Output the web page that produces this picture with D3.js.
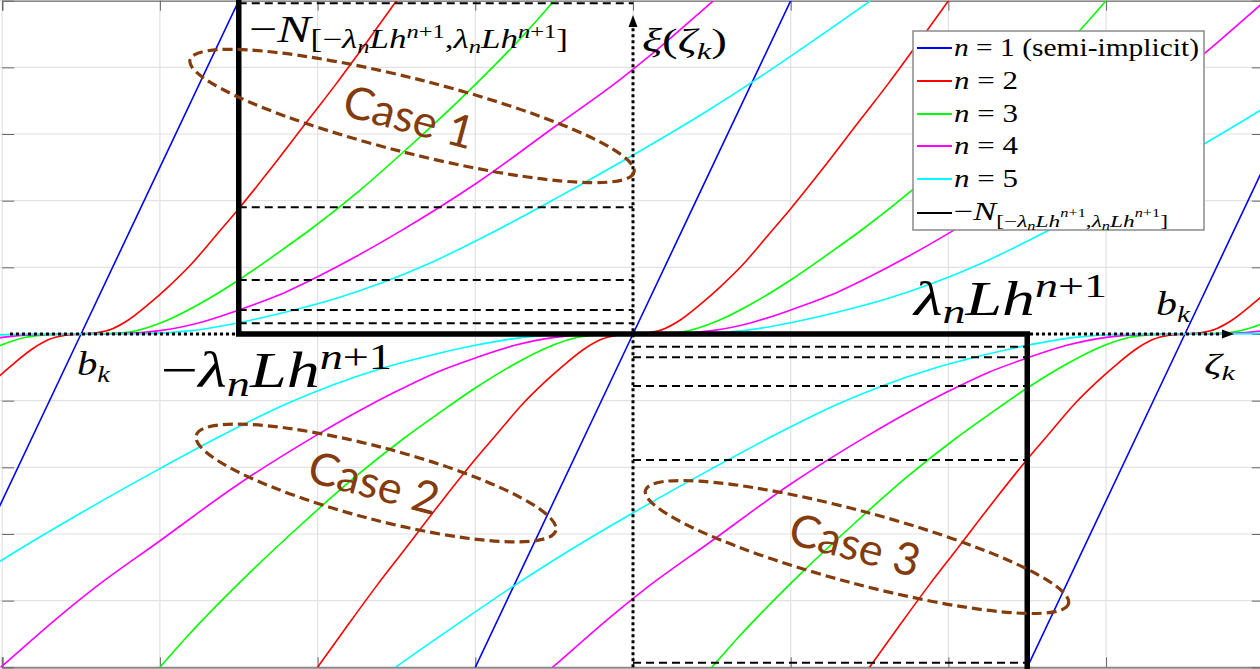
<!DOCTYPE html>
<html><head><meta charset="utf-8">
<script src="https://cdn.jsdelivr.net/npm/d3@7"></script>
<style>body{margin:0;background:#fff;} svg{display:block} text{white-space:pre}</style>
</head><body><svg id="c" width="1260" height="669"></svg>
<script>
// ---------------- data ----------------
const zeroOffsets = [-3.5, 0, 3.5];          // zeros of ξ: −b_k, 0, b_k
const seriesNames = ["1", "2", "3", "4", "5"];
const seriesColors = ["#0000ff", "#ff0000", "#00ff00", "#ff00ff", "#00ffff"];
// half curves (ζ ≥ 0, relative to each zero); curves are odd about their zero
const halfN1 = [[0,0],[1.2,6.0]];
const halfN2 = [[0,0],[0.1,0.02],[0.2,0.08],[0.3,0.21],[0.44,0.47],[0.55,0.70],[0.7,1.05],[0.87,1.52],[1.0,1.88],[1.2,2.47],[1.45,3.24],[1.62,3.76],[1.8,4.34],[2.0,5.0],[2.3,6.0]];
const halfN3 = [[0,0],[0.2,0.01],[0.35,0.05],[0.55,0.21],[0.75,0.45],[1.0,0.81],[1.25,1.22],[1.45,1.56],[1.77,2.16],[2.1,2.85],[2.43,3.58],[2.82,4.52],[3.0,5.0],[3.3,5.8]];
const halfN4 = [[0,0],[0.3,0.01],[0.5,0.05],[0.75,0.17],[1.0,0.36],[1.25,0.58],[1.5,0.86],[1.75,1.17],[2.03,1.55],[2.5,2.25],[3.01,3.12],[3.42,3.82],[3.63,4.22],[4.0,4.98],[4.4,5.8]];
const halfN5 = [[0,0],[0.4,0.005],[0.7,0.05],[1.0,0.17],[1.3,0.33],[1.6,0.52],[1.9,0.76],[2.2,1.05],[2.63,1.55],[3.0,2.02],[3.49,2.67],[3.96,3.33],[4.27,3.8],[4.6,4.33],[5.0,4.99],[5.3,5.5]];
const halfCurves = [halfN1, halfN2, halfN3, halfN4, halfN5];
const xTicks = [-4,-3,-2,-1,0,1,2,3,4];
const yTicks = [-5,-4,-3,-2,-1,0,1,2,3,4,5];
const lambdaLh = 2.5;                                   // λ_n L h^{n+1}
const dashTop = [4.96, 1.90, 0.81, 0.36, 0.16];         // ξ at ζ = −λLh (upper levels)
const dashBottom = [-4.93, -1.89, -0.78, -0.35, -0.19]; // ξ at ζ = +λLh (lower levels)
const caseLabels = ["Case 1", "Case 2", "Case 3"];

// ---------------- setup ----------------
const svg = d3.select("#c");
const W = 1260, H = 669;
const x = d3.scaleLinear().domain([-4, 4]).range([2.2, 1263.8]);
const y = d3.scaleLinear().domain([-5, 5]).range([667.3, 0.7]);
const SERIF = "'Liberation Serif','Times New Roman',serif";
const BROWN = "#843c0c";

svg.append("rect").attr("width", W).attr("height", H).attr("fill", "#fff");
svg.append("defs").append("clipPath").attr("id", "plot")
  .append("rect").attr("x", 0).attr("y", 1).attr("width", W).attr("height", 666.3);

// grid
const grid = svg.append("g").attr("stroke", "#e2e2e2").attr("stroke-width", 1.2);
grid.selectAll(".gx").data(xTicks).join("line")
  .attr("x1", d => x(d)).attr("x2", d => x(d)).attr("y1", y(5)).attr("y2", y(-5));
grid.selectAll(".gy").data(yTicks).join("line")
  .attr("x1", 0).attr("x2", W).attr("y1", d => y(d)).attr("y2", d => y(d));

// axes via d3 (ticks only, inward)
const axG = svg.append("g").attr("color", "#666");
axG.append("g").attr("transform", `translate(0,${y(-5)})`)
  .call(d3.axisTop(x).tickValues(xTicks).tickSize(10).tickFormat(""))
  .call(g => g.select(".domain").attr("stroke", "#8a8a8a").attr("stroke-width", 2));
axG.append("g").attr("transform", `translate(0,${y(5)})`)
  .call(d3.axisBottom(x).tickValues(xTicks).tickSize(10).tickFormat(""))
  .call(g => g.select(".domain").attr("stroke", "#8a8a8a").attr("stroke-width", 1.5));
axG.append("g").attr("transform", `translate(${x(-4)},0)`)
  .call(d3.axisRight(y).tickValues(yTicks).tickSize(12).tickFormat(""))
  .call(g => g.select(".domain").remove());
axG.append("g").attr("transform", `translate(${x(4)},0)`)
  .call(d3.axisLeft(y).tickValues(yTicks).tickSize(12).tickFormat(""))
  .call(g => g.select(".domain").remove());

// curves
const line = d3.line().x(d => x(d[0])).y(d => y(d[1])).curve(d3.curveMonotoneX);
const curvesG = svg.append("g").attr("clip-path", "url(#plot)").attr("fill", "none");
halfCurves.forEach((half, i) => {
  const full = half.slice(1).map(([a, b]) => [-a, -b]).reverse().concat(half);
  zeroOffsets.forEach(off => {
    curvesG.append("path")
      .attr("d", line(full.map(([a, b]) => [a + off, b])))
      .attr("stroke", seriesColors[i]).attr("stroke-width", 1.6);
  });
});

// dashed level lines
const dashG = svg.append("g").attr("stroke", "#000").attr("stroke-width", 2).attr("stroke-dasharray", "8,5");
dashG.selectAll(".dt").data(dashTop).join("line")
  .attr("x1", x(-lambdaLh)).attr("x2", x(0)).attr("y1", d => y(d)).attr("y2", d => y(d));
dashG.selectAll(".db").data(dashBottom).join("line")
  .attr("x1", x(0)).attr("x2", x(lambdaLh)).attr("y1", d => y(d)).attr("y2", d => y(d));

// dotted axes with arrows
const dot = svg.append("g").attr("stroke", "#000").attr("stroke-width", 3).attr("stroke-dasharray", "3,3");
dot.append("line").attr("x1", 10).attr("x2", 1224).attr("y1", y(0)).attr("y2", y(0));
dot.append("line").attr("x1", x(0)).attr("x2", x(0)).attr("y1", y(-5)).attr("y2", 26);
svg.append("path").attr("fill", "#000")
  .attr("d", `M1234,${y(0)} L1222,${y(0) - 4.5} L1222,${y(0) + 4.5} Z`);
svg.append("path").attr("fill", "#000")
  .attr("d", `M${x(0)},15 L${x(0) - 4.5},27 L${x(0) + 4.5},27 Z`);

// thick normal-cone graph
svg.append("path").attr("fill", "none").attr("stroke", "#000").attr("stroke-width", 5.5)
  .attr("stroke-linejoin", "miter")
  .attr("d", d3.line()([[x(-lambdaLh), 0], [x(-lambdaLh), y(0)], [x(lambdaLh), y(0)], [x(lambdaLh), H]]));

// ellipses (case regions)
const ellipses = [
  {cx: 412, cy: 116, rx: 229, ry: 37, a: 14.2},
  {cx: 376, cy: 483, rx: 186, ry: 36, a: 14.8},
  {cx: 857, cy: 547, rx: 219, ry: 36, a: 15}
];
svg.append("g").selectAll("ellipse").data(ellipses).join("ellipse")
  .attr("cx", 0).attr("cy", 0).attr("rx", d => d.rx).attr("ry", d => d.ry)
  .attr("transform", d => `translate(${d.cx},${d.cy}) rotate(${d.a})`)
  .attr("fill", "none").attr("stroke", BROWN).attr("stroke-width", 3.2).attr("stroke-dasharray", "10,5");
const casePos = [[409, 117], [374, 483], [855, 545]];
svg.append("g").selectAll("text").data(caseLabels).join("text")
  .attr("transform", (d, i) => `translate(${casePos[i][0]},${casePos[i][1]}) rotate(15)`)
  .attr("text-anchor", "middle").attr("dy", "0.35em")
  .attr("font-family", "Lato, 'Open Sans', sans-serif").attr("font-size", 45)
  .attr("fill", BROWN).text(d => d);

// math text helper: tokens [text, italic, scale, shift(em, +down)]
function mtext(parent, px, py, size, toks, len) {
  const t = parent.append("text").attr("x", px).attr("y", py)
    .attr("font-family", SERIF).attr("fill", "#000");
  let cur = 0;
  toks.forEach(([s, it, sc, sh]) => {
    t.append("tspan").text(s).attr("font-style", it ? "italic" : "normal")
      .attr("font-size", size * sc).attr("dy", (sh - cur) * size);
    cur = sh;
  });
  if (len) t.attr("textLength", len).attr("lengthAdjust", "spacingAndGlyphs");
  return t;
}
function normalConeTokens(sc, sub, sup, subsub) {
  return [
    ["−", 0, 1, 0], ["N", 1, 1, 0],
    ["[−", 0, sc, sub], ["λ", 1, sc, sub], ["n", 1, sc * 0.7, subsub], ["L", 1, sc, sub], ["h", 1, sc, sub],
    ["n", 1, sc * 0.7, sup], ["+1", 0, sc * 0.7, sup], [",", 0, sc, sub],
    ["λ", 1, sc, sub], ["n", 1, sc * 0.7, subsub], ["L", 1, sc, sub], ["h", 1, sc, sub],
    ["n", 1, sc * 0.7, sup], ["+1", 0, sc * 0.7, sup], ["]", 0, sc, sub]
  ];
}
const labels = svg.append("g");
mtext(labels, 249, 41.5, 38, normalConeTokens(0.7, 0.18, -0.1, 0.3), 319);
mtext(labels, 642, 52, 34, [["ξ", 1, 1, 0], ["(", 0, 1, 0], ["ζ", 1, 1, 0], ["k", 1, 0.7, 0.22], [")", 0, 1, 0]], 85);
mtext(labels, 77, 375, 33, [["b", 1, 1, 0], ["k", 1, 0.7, 0.22]], 33);
mtext(labels, 1156, 315, 33, [["b", 1, 1, 0], ["k", 1, 0.7, 0.22]], 34);
mtext(labels, 1204, 374, 29, [["ζ", 1, 1, 0], ["k", 1, 0.7, 0.22]], 31);
mtext(labels, 161, 387, 51, [["−", 0, 1, 0], ["λ", 1, 1, 0], ["n", 1, 0.7, 0.17], ["L", 1, 1, 0], ["h", 1, 1, 0], ["n", 1, 0.7, -0.36], ["+1", 0, 0.7, -0.36]], 231);
mtext(labels, 914, 315, 49, [["λ", 1, 1, 0], ["n", 1, 0.7, 0.17], ["L", 1, 1, 0], ["h", 1, 1, 0], ["n", 1, 0.7, -0.36], ["+1", 0, 0.7, -0.36]], 193);

// legend
const leg = svg.append("g");
leg.append("rect").attr("x", 913).attr("y", 31).attr("width", 291).attr("height", 199)
  .attr("fill", "#fff").attr("stroke", "#8a8a8a").attr("stroke-width", 1.5);
const legY = [48, 81, 114, 146, 179, 213];
const legColors = seriesColors.concat(["#000"]);
leg.selectAll("line").data(legY).join("line")
  .attr("x1", 917).attr("x2", 952).attr("y1", d => d).attr("y2", d => d)
  .attr("stroke", (d, i) => legColors[i]).attr("stroke-width", 2);
seriesNames.forEach((s, i) => {
  mtext(leg, 954, legY[i] + 8, 26, [["n", 1, 1, 0], [" = " + s + (i === 0 ? " (semi-implicit)" : ""), 0, 1, 0]], i === 0 ? 245 : 64);
});
mtext(leg, 954, legY[5] + 7, 26, normalConeTokens(0.68, 0.25, -0.1, 0.38), 214);
</script></body></html>
